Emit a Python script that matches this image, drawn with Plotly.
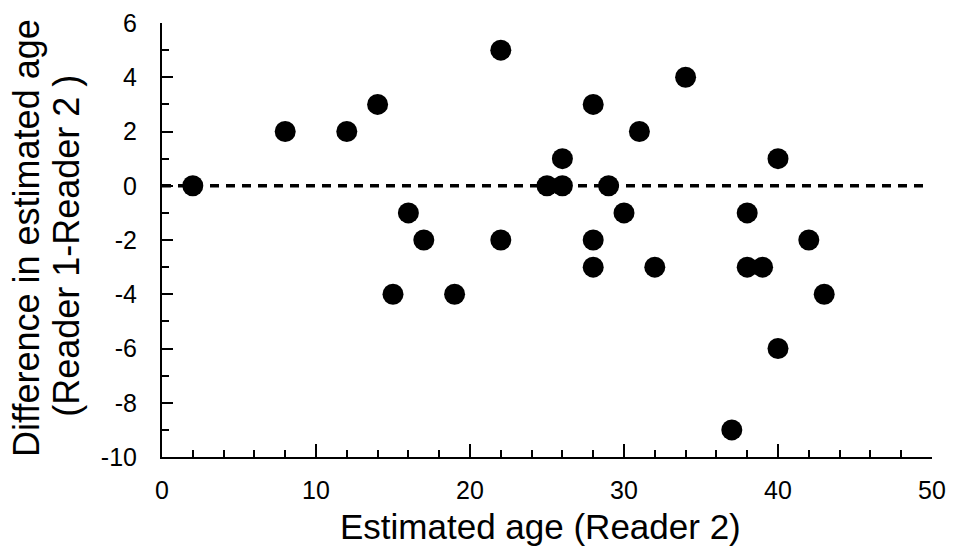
import plotly.graph_objects as go

# Data
age_reader2 = [2, 8, 12, 14, 15, 16, 17, 19, 22, 22, 25, 26, 26, 28, 28, 28,
               29, 30, 31, 32, 34, 37, 38, 38, 39, 40, 40, 42, 43]
difference = [0, 2, 2, 3, -4, -1, -2, -4, 5, -2, 0, 0, 1, 3, -2, -3,
              0, -1, 2, -3, 4, -9, -1, -3, -3, 1, -6, -2, -4]

ref_line_x = [0, 49.8]
ref_line_y = [0, 0]

x_tickvals = [0, 10, 20, 30, 40, 50]
x_ticktext = ["0", "10", "20", "30", "40", "50"]
y_tickvals = [-10, -8, -6, -4, -2, 0, 2, 4, 6]
y_ticktext = ["-10", "-8", "-6", "-4", "-2", "0", "2", "4", "6"]

x_title = "Estimated age (Reader 2)"
y_title_line1 = "Difference in estimated age"
y_title_line2 = "(Reader 1-Reader 2 )"

FONT = "Liberation Sans, Arial, Helvetica, sans-serif"

fig = go.Figure()
fig.add_trace(go.Scatter(
    x=ref_line_x, y=ref_line_y, mode="lines",
    line=dict(color="black", width=3.5, dash="9px,7px"),
    hoverinfo="skip", showlegend=False,
))
fig.add_trace(go.Scatter(
    x=age_reader2, y=difference, mode="markers",
    marker=dict(color="black", size=21, line=dict(width=0)),
    showlegend=False,
))

fig.update_layout(
    width=954, height=552,
    margin=dict(l=162, r=22, t=23, b=95),
    paper_bgcolor="white", plot_bgcolor="white",
    font=dict(family=FONT, color="black"),
    showlegend=False,
)
fig.update_xaxes(
    range=[0, 50], showgrid=False, zeroline=False,
    showline=True, linecolor="black", linewidth=2,
    ticks="inside", tickmode="array", tickvals=x_tickvals, ticktext=x_ticktext,
    ticklen=13, tickwidth=1.5, tickcolor="black",
    minor=dict(ticks="inside", dtick=2, tick0=0, ticklen=7, tickwidth=1.5, tickcolor="black"),
    tickfont=dict(size=25, family=FONT, color="black"),
    ticklabelstandoff=10,
    automargin=False,
)
fig.update_yaxes(
    range=[-10, 6], showgrid=False, zeroline=False,
    showline=True, linecolor="black", linewidth=2,
    ticks="inside", tickmode="array", tickvals=y_tickvals, ticktext=y_ticktext,
    ticklen=11, tickwidth=1.5, tickcolor="black",
    minor=dict(ticks="inside", dtick=1, tick0=0, ticklen=7, tickwidth=1.5, tickcolor="black"),
    tickfont=dict(size=25, family=FONT, color="black"),
    ticklabelstandoff=18,
    automargin=False,
)

fig.add_annotation(
    text=x_title, xref="paper", yref="paper", x=0.492, y=-0.160,
    xanchor="center", yanchor="middle", showarrow=False,
    font=dict(size=35, family=FONT, color="black"),
)
for txt, xc, yc in [(y_title_line1, -0.176, 0.506), (y_title_line2, -0.125, 0.486)]:
    fig.add_annotation(
        text=txt, xref="paper", yref="paper", x=xc, y=yc,
        xanchor="center", yanchor="middle", textangle=-90, showarrow=False,
        font=dict(size=36, family=FONT, color="black"),
    )

fig.write_html("out.html")
